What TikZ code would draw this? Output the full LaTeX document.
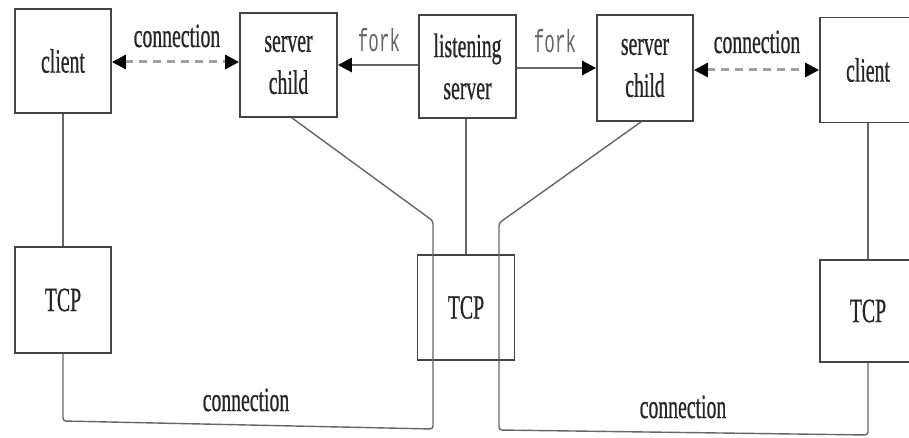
\documentclass[tikz,border=0pt]{standalone}
\usepackage{fontspec}
\usetikzlibrary{arrows.meta}
\newfontfamily\lblfont[FakeStretch=0.58,FakeBold=0.6]{Liberation Serif}
\newfontfamily\codefont[FakeStretch=0.55]{Liberation Mono}
\definecolor{ink}{HTML}{262626}
\definecolor{edge}{HTML}{444444}
\definecolor{wire}{HTML}{666666}
\definecolor{dashgray}{HTML}{A0A0A0}
\begin{document}
\begin{tikzpicture}[x=1pt,y=-1pt,
  box/.style={draw=edge,line width=1.8pt,fill=white,inner sep=0pt,
    text=ink,align=center,font=\lblfont\fontsize{34}{42}\selectfont},
  wireline/.style={draw=wire,line width=1.4pt},
  tipA/.style={-{Triangle[length=14pt,width=14pt,color=black]}},
  tipB/.style={{Triangle[length=14pt,width=14pt,color=black]}-{Triangle[length=14pt,width=14pt,color=black]}},
  forkline/.style={draw=wire,line width=2.8pt,tipA},
  dashline/.style={draw=dashgray,line width=3pt,dash pattern=on 8pt off 6pt,tipB},
  lbl/.style={inner sep=0pt,anchor=base,text=ink,font=\lblfont\fontsize{34}{40}\selectfont},
  code/.style={inner sep=0pt,anchor=base,text=wire,font=\codefont\fontsize{32}{36}\selectfont}]
\clip (0,0) rectangle (909,438);
\fill[white] (0,0) rectangle (909,438);

% processes
\node[box,minimum width=96pt,minimum height=104pt] (clientL) at (63,61) {client};
\node[box,minimum width=97pt,minimum height=104pt] (childL) at (288.5,65) {server\\child};
\node[box,minimum width=97pt,minimum height=103pt] (listen) at (467.5,66.5) {listening\\server};
\node[box,minimum width=96pt,minimum height=106pt] (childR) at (645,68) {server\\child};
\node[box,minimum width=96pt,minimum height=105pt] (clientR) at (868,70) {client};

% TCP layers
\node[box,minimum width=96pt,minimum height=106pt] (tcpL) at (63,300) {TCP};
\node[box,minimum width=97pt,minimum height=105pt,fill=none] (tcpM) at (466,307.5) {TCP};
\node[box,minimum width=96pt,minimum height=102pt] (tcpR) at (868,311) {TCP};

% fork arrows
\draw[forkline] (listen.west |- 0,65) -- (childL.east |- 0,65);
\draw[forkline] (listen.east |- 0,68) -- (childR.west |- 0,68);
\node[code] (forkL) at (379,52) {fork};
\node[code] (forkR) at (555,53) {fork};

% logical connections between client and server child
\draw[dashline] (clientL.east |- 0,62) -- (childL.west |- 0,62);
\draw[dashline] (childR.east |- 0,70) -- (clientR.west |- 0,70);
\node[lbl] (connTL) at (177,47) {connection};
\node[lbl] (connTR) at (757,53) {connection};

% process to TCP attachments
\draw[wireline] (clientL.south) -- (tcpL.north);
\draw[wireline] (listen.south -| tcpM.north) -- (tcpM.north);
\draw[wireline] (clientR.south) -- (tcpR.north);

% TCP connections
\coordinate (bendL) at (433,221);
\coordinate (bendR) at (499,223);
\draw[wireline,rounded corners=3pt] (childL.south -| 292,0) -- (bendL) -- (433,429) -- (tcpL.south |- 0,421) -- (tcpL.south);
\draw[wireline,rounded corners=3pt] (childR.south -| 641,0) -- (bendR) -- (499,430) -- (tcpR.south |- 0,435) -- (tcpR.south);
\node[lbl] (connBL) at (246,411) {connection};
\node[lbl] (connBR) at (683,418) {connection};
\end{tikzpicture}
\end{document}
